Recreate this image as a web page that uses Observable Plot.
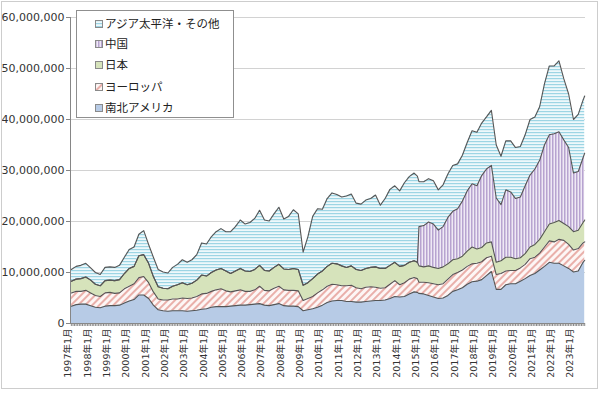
<!DOCTYPE html>
<html><head><meta charset="utf-8">
<script src="https://cdn.jsdelivr.net/npm/d3@7"></script>
<script src="https://cdn.jsdelivr.net/npm/@observablehq/plot@0.6"></script>
<style>
body{margin:0;background:#fff;}
#wrap{position:relative;width:600px;height:393px;overflow:hidden;font-family:"DejaVu Sans","Noto Sans CJK JP",sans-serif;}
#wrap > svg.plot{position:absolute;left:0;top:0;}
#frame{position:absolute;left:1px;top:1px;width:597px;height:388px;border:1.5px solid #cdcdcd;box-sizing:border-box;pointer-events:none}
#legend{position:absolute;left:76px;top:10px;width:158px;height:108px;border:1px solid #8f8f8f;background:#fff;box-sizing:border-box;font-family:"Noto Sans CJK JP",sans-serif;font-size:11.5px;color:#222}
.row{position:absolute;left:18px;height:14px;line-height:14px;white-space:nowrap}
.row svg{vertical-align:middle;margin-right:2px;position:relative;top:-1px}
</style></head>
<body>
<svg width="0" height="0" style="position:absolute">
 <defs>
  <pattern id="pEu" width="5" height="5" patternUnits="userSpaceOnUse" patternTransform="rotate(45)">
   <rect width="5" height="5" fill="#fdf6f5"/>
   <line x1="1" y1="0" x2="1" y2="5" stroke="#e7a8a2" stroke-width="1.8"/>
  </pattern>
  <pattern id="pCn" width="3" height="3" patternUnits="userSpaceOnUse">
   <rect width="3" height="3" fill="#efe9f5"/>
   <line x1="0.75" y1="0" x2="0.75" y2="3" stroke="#b7a3d0" stroke-width="1.5"/>
  </pattern>
  <pattern id="pAp" width="3" height="3" patternUnits="userSpaceOnUse">
   <rect width="3" height="3" fill="#eef8fb"/>
   <line x1="0" y1="0.6" x2="3" y2="0.6" stroke="#9dd5e4" stroke-width="1.2"/>
  </pattern>
 </defs>
</svg>
<div id="wrap"></div>
<script>
// Monthly semiconductor sales by region (axis unit; values below in millions of that unit)
const months = [
"1997-01","1997-04","1997-07","1997-10","1998-01","1998-04","1998-07","1998-10",
"1999-01","1999-04","1999-07","1999-10","2000-01","2000-04","2000-07","2000-10",
"2001-01","2001-04","2001-07","2001-10","2002-01","2002-04","2002-07","2002-10",
"2003-01","2003-04","2003-07","2003-10","2004-01","2004-04","2004-07","2004-10",
"2005-01","2005-04","2005-07","2005-10","2006-01","2006-04","2006-07","2006-10",
"2007-01","2007-04","2007-07","2007-10","2008-01","2008-04","2008-07","2008-10",
"2009-01","2009-04","2009-07","2009-10","2010-01","2010-04","2010-07","2010-10",
"2011-01","2011-04","2011-07","2011-10","2012-01","2012-04","2012-07","2012-10",
"2013-01","2013-04","2013-07","2013-10","2014-01","2014-04","2014-07","2014-10","2014-12",
"2015-01","2015-04","2015-07","2015-10","2016-01","2016-04","2016-07","2016-10",
"2017-01","2017-04","2017-07","2017-10","2018-01","2018-04","2018-07","2018-10",
"2019-01","2019-04","2019-07","2019-10","2020-01","2020-04","2020-07","2020-10",
"2021-01","2021-04","2021-07","2021-10","2022-01","2022-04","2022-07","2022-10",
"2023-01","2023-04","2023-07","2023-08"];

const americas = [
3.4,3.7,3.8,3.8, 3.5,3.2,3.1,3.4, 3.5,3.5,3.6,4.0, 4.4,4.7,5.6,5.6,
4.9,3.6,2.7,2.5, 2.4,2.5,2.5,2.5, 2.4,2.5,2.6,2.8, 2.9,3.2,3.3,3.3,
3.3,3.4,3.5,3.6, 3.6,3.7,3.8,3.9, 3.6,3.5,3.7,3.9, 3.5,3.4,3.4,3.3,
2.5,2.7,2.9,3.2, 3.6,4.1,4.4,4.5, 4.5,4.3,4.3,4.2, 4.2,4.3,4.4,4.5,
4.5,4.6,4.9,5.3, 5.2,5.3,5.8,6.2,6.1,
5.9,5.8,5.5,5.2, 4.9,5.0,5.5,6.3, 6.6,7.0,7.7,8.2, 8.3,8.6,9.4,10.2,
6.7,6.7,7.6,7.8, 7.8,8.3,8.8,9.4, 9.8,10.5,11.2,12.0, 11.8,11.8,11.3,10.8,
10.1,10.3,12.0,12.4];

const europe = [
2.6,2.6,2.5,2.7, 2.5,2.3,2.2,2.6, 2.6,2.4,2.4,2.8, 2.9,3.1,3.4,3.6,
3.1,2.6,2.1,2.1, 2.2,2.3,2.3,2.5, 2.5,2.5,2.7,3.0, 3.0,3.1,3.3,3.5,
3.1,2.8,2.9,3.0, 2.7,2.6,2.8,3.4, 2.9,2.9,3.2,3.4, 3.1,3.1,3.1,3.1,
2.0,2.2,2.4,2.8, 3.0,3.2,3.3,3.1, 2.9,3.1,3.2,2.8, 2.6,2.8,2.8,2.6,
2.4,2.4,2.8,3.1, 2.4,2.7,2.9,2.8,2.7,
2.2,2.3,2.5,2.6, 2.7,2.8,3.2,3.3, 3.4,3.5,3.5,3.5, 3.5,3.5,3.5,3.0,
2.9,3.1,2.7,2.6, 2.6,2.6,2.8,3.3, 3.2,3.3,3.8,4.2, 4.2,4.7,5.0,4.7,
4.3,4.4,3.8,3.6];

const japan = [
2.3,2.4,2.5,2.6, 2.5,2.2,2.1,2.4, 2.4,2.5,2.6,3.0, 3.5,3.4,4.3,4.3,
3.8,3.0,2.4,2.3, 2.2,2.5,2.8,3.0, 2.7,2.9,3.2,3.7, 3.4,3.7,3.9,4.0,
3.9,3.6,3.9,4.2, 4.0,3.9,4.0,4.1, 3.9,3.9,4.1,4.3, 4.1,4.1,4.3,4.2,
3.0,3.1,3.5,3.7, 3.7,3.9,4.1,4.1, 3.9,3.6,3.8,3.6, 3.6,3.7,3.8,4.0,
3.9,3.8,3.7,3.6, 3.6,3.4,3.3,3.3,3.2,
3.2,3.0,3.3,3.2, 3.2,3.3,3.0,2.9, 2.7,2.7,3.0,3.3, 2.8,2.8,2.9,2.8,
2.4,2.5,2.7,2.6, 2.3,2.0,2.1,2.3, 2.5,2.7,3.0,3.3, 3.8,3.7,3.3,3.5,
3.6,3.6,4.0,4.3];

// China reported separately from 2015 (included in Asia Pacific before)
const china = [
0,0,0,0, 0,0,0,0, 0,0,0,0, 0,0,0,0,
0,0,0,0, 0,0,0,0, 0,0,0,0, 0,0,0,0,
0,0,0,0, 0,0,0,0, 0,0,0,0, 0,0,0,0,
0,0,0,0, 0,0,0,0, 0,0,0,0, 0,0,0,0,
0,0,0,0, 0,0,0,0,0,
7.7,8.1,8.6,8.5, 7.5,7.9,9.1,9.5, 9.8,10.8,11.8,12.4, 12.4,14.1,14.5,15.0,
12.6,11.0,13.2,12.8, 11.8,11.9,13.3,14.1, 14.8,15.5,17.0,17.5, 17.4,17.4,16.4,15.5,
11.5,11.5,12.7,13.1];

const asiaPacific = [
2.3,2.5,2.6,2.7, 2.4,2.3,2.2,2.6, 2.6,2.6,2.8,3.2, 3.7,3.8,4.2,4.7,
3.7,3.8,3.4,3.2, 3.1,3.7,4.0,4.5, 4.4,4.6,5.0,6.3, 6.3,7.0,7.5,7.8,
7.7,8.2,8.7,9.5, 9.2,9.6,10.0,10.8, 9.9,9.8,10.5,11.2, 9.8,10.4,11.5,10.9,
6.5,9.0,12.2,12.8, 12.1,13.3,13.8,13.6, 13.5,14.0,14.1,13.0, 13.0,13.4,13.5,14.1,
12.4,13.7,14.9,15.0, 14.8,16.2,16.8,17.2,16.9,
8.8,8.6,8.5,8.5, 7.9,8.2,8.5,9.0, 8.8,9.0,9.5,10.4, 10.5,10.3,10.2,10.8,
10.4,9.5,9.6,10.0, 10.0,9.9,10.0,10.9, 10.2,10.5,12.0,13.5, 13.3,13.9,12.0,10.5,
10.5,11.2,11.3,11.2];

const regions = ["南北アメリカ","ヨーロッパ","日本","中国","アジア太平洋・その他"];
const regionFills = ["#b7cbe6","url(#pEu)","#d6e3bb","url(#pCn)","url(#pAp)"];
const yTicks = [0,10,20,30,40,50,60];
const yTickLabels = ["0","10,000,000","20,000,000","30,000,000","40,000,000","50,000,000","60,000,000"];
const xTickLabels = ["1997年1月","1998年1月","1999年1月","2000年1月","2001年1月","2002年1月","2003年1月",
"2004年1月","2005年1月","2006年1月","2007年1月","2008年1月","2009年1月","2010年1月","2011年1月",
"2012年1月","2013年1月","2014年1月","2015年1月","2016年1月","2017年1月","2018年1月","2019年1月",
"2020年1月","2021年1月","2022年1月","2023年1月"];

const parse = d3.utcParse("%Y-%m");
const seriesValues = [americas, europe, japan, china, asiaPacific];
const rows = regions.flatMap((r, k) => seriesValues[k].map((v, i) => ({date: parse(months[i]), region: r, value: v})));
const xTickDates = xTickLabels.map(s => new Date(Date.UTC(+s.slice(0,4), 0, 1)));
const x0 = new Date(Date.UTC(1996,11,16)), x1 = new Date(Date.UTC(2023,7,16));
const monthTicks = d3.utcMonth.range(new Date(Date.UTC(1997,0,1)), new Date(Date.UTC(2023,8,1)));

const chart = Plot.plot({
  width: 600, height: 393,
  marginLeft: 70, marginRight: 15, marginTop: 17, marginBottom: 70,
  x: {type: "utc", domain: [x0, x1], axis: null},
  y: {domain: [0, 60], axis: null},
  color: {domain: regions, range: regionFills},
  style: {background: "transparent", fontFamily: "DejaVu Sans, Noto Sans CJK JP, sans-serif", color: "#333"},
  marks: [
    Plot.ruleY(yTicks.slice(1), {stroke: "#d2d2d2", strokeWidth: 1}),
    Plot.areaY(rows, {x: "date", y: "value", z: "region", fill: "region", order: regions}),
    Plot.lineY(rows, Plot.stackY2({x: "date", y: "value", z: "region", order: regions, stroke: "#555", strokeWidth: 1.1})),
    Plot.ruleX([x0], {stroke: "#868686"}),
    Plot.ruleY([0], {stroke: "#868686"}),
    Plot.axisY(yTicks, {anchor: "left", label: null, tickSize: 4, tickPadding: 2, stroke: "#868686",
      tickFormat: (d) => yTickLabels[yTicks.indexOf(d)], fontSize: 11, fill: "#333"}),
    Plot.axisX(monthTicks, {anchor: "bottom", label: null, tickSize: 3, tickFormat: () => "", stroke: "#8a8a8a"}),
    Plot.text(xTickLabels, {x: (d, i) => xTickDates[i], frameAnchor: "bottom", rotate: -90, textAnchor: "end",
      dy: 5, fontSize: 9.5, fill: "#333"})
  ]
});
chart.classList.add("plot");
const wrap = document.getElementById("wrap");
wrap.appendChild(chart);

const legend = document.createElement("div");
legend.id = "legend";
const legendOrder = [4, 3, 2, 1, 0];
const rowTops = [5, 25, 46, 68, 89];
legendOrder.forEach((k, j) => {
  const row = document.createElement("div");
  row.className = "row";
  row.style.top = rowTops[j] + "px";
  row.innerHTML = `<svg width="8" height="8"><rect x="0.5" y="0.5" width="7" height="7" fill="${regionFills[k]}" stroke="#8a8a8a" stroke-width="1"/></svg>${regions[k]}`;
  legend.appendChild(row);
});
wrap.appendChild(legend);
const frame = document.createElement("div");
frame.id = "frame";
wrap.appendChild(frame);
</script>
</body></html>
